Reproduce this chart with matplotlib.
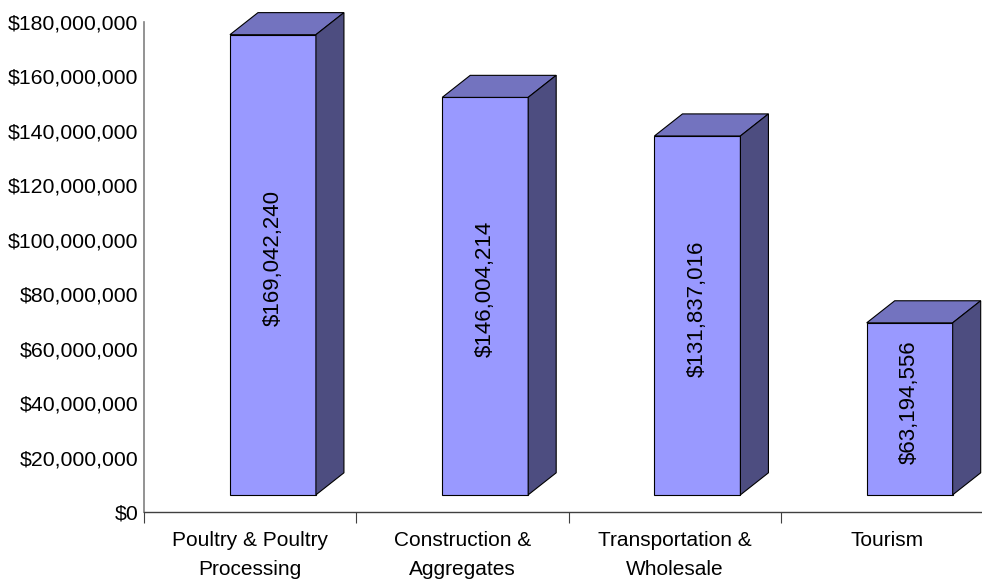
import matplotlib
matplotlib.use('Agg')
import matplotlib.pyplot as plt
from matplotlib.patches import Polygon
from matplotlib.ticker import FuncFormatter

plt.rcParams['font.family'] = ['Liberation Sans', 'DejaVu Sans']

categories = ['Poultry & Poultry\nProcessing', 'Construction &\nAggregates',
              'Transportation &\nWholesale', 'Tourism']
values = [169042240, 146004214, 131837016, 63194556]

front_color = '#9999FF'
top_color = '#7373BF'
side_color = '#4D4D80'

fig = plt.figure(figsize=(9.82, 5.83), dpi=100)
# axes right edge runs a little past the figure, like the original
ax = fig.add_axes([144 / 982, 71 / 583, 849 / 982, 490 / 583])
ax.set_xlim(0, len(categories))
ax.set_ylim(0, 180e6)

# fake 3d: front face is lifted a bit, depth goes up and to the right
base = 6.3e6
bar_left = 0.405
bar_width = 0.405
dx = 0.132
dy = 8.1e6

for i, v in enumerate(values):
    x0 = i + bar_left
    x1 = x0 + bar_width
    top = base + v
    ax.bar(x0, v, bar_width, bottom=base, align='edge', color=front_color,
           edgecolor='black', linewidth=0.8, zorder=3, clip_on=False)
    ax.add_patch(Polygon([(x0, top), (x1, top), (x1 + dx, top + dy), (x0 + dx, top + dy)],
                         closed=True, facecolor=top_color, edgecolor='black',
                         linewidth=0.8, zorder=3, clip_on=False))
    ax.add_patch(Polygon([(x1, base), (x1, top), (x1 + dx, top + dy), (x1 + dx, base + dy)],
                         closed=True, facecolor=side_color, edgecolor='black',
                         linewidth=0.8, zorder=3, clip_on=False))
    ax.text(x0 + bar_width / 2, base + v / 2 + 2.5e6, '${:,}'.format(v),
            rotation=90, ha='center', va='center', fontsize=16, zorder=4)

ax.yaxis.set_major_locator(plt.MultipleLocator(20e6))
ax.yaxis.set_major_formatter(FuncFormatter(lambda y, _: '${:,.0f}'.format(y)))
ax.tick_params(axis='y', length=0, pad=4, labelsize=15.3)

ax.set_xticks(range(len(categories) + 1))
ax.set_xticklabels([])
ax.set_xticks([i + 0.5 for i in range(len(categories))], minor=True)
ax.set_xticklabels(categories, minor=True, fontsize=15, linespacing=1.65)
ax.tick_params(axis='x', which='major', length=8, width=0.8, color='#404040', direction='out')
ax.tick_params(axis='x', which='minor', length=0, pad=14)

ax.spines['top'].set_visible(False)
ax.spines['right'].set_visible(False)
ax.spines['left'].set_color('#808080')
ax.spines['left'].set_linewidth(1.2)
ax.spines['bottom'].set_color('#404040')
ax.spines['bottom'].set_linewidth(1.0)

fig.savefig('out.png', dpi=100)
